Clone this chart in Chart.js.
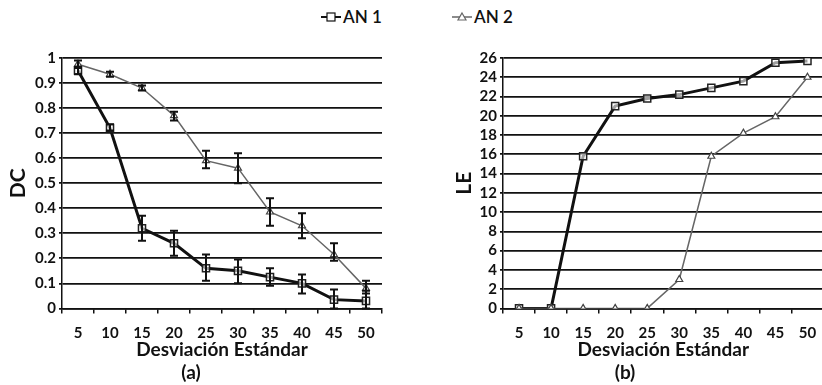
<!DOCTYPE html>
<html>
<head>
<meta charset="utf-8">
<script src="https://cdn.jsdelivr.net/npm/chart.js@4.4.1/dist/chart.umd.min.js"></script>
<style>
  body { margin: 0; background: #fff; width: 822px; height: 385px; overflow: hidden; position: relative; font-family: Lato, "Open Sans", sans-serif; }
  #boxA { position: absolute; left: 0; top: 30px; width: 420px; height: 355px; }
  #boxB { position: absolute; left: 420px; top: 30px; width: 410px; height: 355px; }
  .legend { position: absolute; top: 6px; font-size: 17px; font-weight: 600; color: #111; display: flex; align-items: center; }
  .legend canvas { margin-right: 2px; }
</style>
</head>
<body>
<div class="legend" style="left:321px"><canvas id="lg1" width="20" height="12"></canvas>AN 1</div>
<div class="legend" style="left:452px"><canvas id="lg2" width="20" height="12"></canvas>AN 2</div>
<div id="boxA"><canvas id="chartA"></canvas></div>
<div id="boxB"><canvas id="chartB"></canvas></div>
<script>
const categories = ['5', '10', '15', '20', '25', '30', '35', '40', '45', '50'];

// (a) DC
const dcAN1 = [0.95, 0.72, 0.32, 0.26, 0.16, 0.15, 0.125, 0.10, 0.035, 0.03];
const dcAN1Low = [0.935, 0.71, 0.27, 0.21, 0.11, 0.10, 0.09, 0.06, 0.0, 0.0];
const dcAN1High = [0.965, 0.735, 0.37, 0.31, 0.215, 0.195, 0.16, 0.135, 0.075, 0.07];
const dcAN2 = [0.975, 0.935, 0.88, 0.77, 0.59, 0.56, 0.385, 0.33, 0.215, 0.08];
const dcAN2Low = [0.96, 0.925, 0.87, 0.75, 0.56, 0.50, 0.33, 0.28, 0.19, 0.06];
const dcAN2High = [0.99, 0.945, 0.89, 0.785, 0.63, 0.62, 0.44, 0.38, 0.26, 0.11];

// (b) LE
const leAN1 = [0, 0, 15.8, 21, 21.8, 22.2, 22.9, 23.6, 25.5, 25.7];
const leAN2 = [0, 0, 0, 0, 0, 3, 15.8, 18.2, 19.9, 24];

const tickFont = { family: 'Lato', size: 15, weight: 'bold' };
const titleFont = { family: 'Lato', size: 19, weight: 'bold' };

// draws vertical error bars from dataset.errLow / dataset.errHigh
const errorBars = {
  id: 'errorBars',
  afterDatasetsDraw(chart) {
    const ctx = chart.ctx;
    const y = chart.scales.y;
    chart.data.datasets.forEach((ds, i) => {
      if (!ds.errLow) return;
      const meta = chart.getDatasetMeta(i);
      ctx.save();
      ctx.strokeStyle = '#111';
      ctx.lineWidth = 2;
      meta.data.forEach((pt, j) => {
        const top = y.getPixelForValue(ds.errHigh[j]);
        const bot = y.getPixelForValue(ds.errLow[j]);
        ctx.beginPath();
        ctx.moveTo(pt.x, top); ctx.lineTo(pt.x, bot);
        ctx.moveTo(pt.x - 4, top); ctx.lineTo(pt.x + 4, top);
        ctx.moveTo(pt.x - 4, bot); ctx.lineTo(pt.x + 4, bot);
        ctx.stroke();
      });
      ctx.restore();
    });
  }
};

function an1(data) {
  return {
    label: 'AN 1', data: data,
    borderColor: '#111', borderWidth: 3,
    pointStyle: 'rect', pointRadius: 5,
    pointBackgroundColor: 'rgba(255,255,255,0.6)', pointBorderColor: '#222', pointBorderWidth: 1.5,
    tension: 0
  };
}
function an2(data) {
  return {
    label: 'AN 2', data: data,
    borderColor: '#666', borderWidth: 1.5,
    pointStyle: 'triangle', pointRadius: 4,
    pointBackgroundColor: '#fff', pointBorderColor: '#444', pointBorderWidth: 1.2,
    tension: 0
  };
}

function makeOptions(yMax, step, yTitle, caption, yWidth, padRight, yTitleGap) {
  return {
    responsive: true,
    maintainAspectRatio: false,
    animation: false,
    layout: { padding: { left: 0, right: padRight, top: 28, bottom: 0 } },
    plugins: {
      legend: { display: false },
      tooltip: { enabled: false },
      title: { display: true, position: 'bottom', text: caption, color: '#111',
        font: { family: 'Lato', size: 19 }, padding: { top: 0, bottom: 1 } }
    },
    scales: {
      x: {
        offset: true,
        grid: { display: true, offset: true, drawOnChartArea: false, drawTicks: true, tickLength: 5, color: '#111', lineWidth: 1.5 },
        border: { color: '#111', width: 1.5 },
        ticks: { color: '#111', font: tickFont, padding: 11, maxRotation: 0, autoSkip: false },
        title: { display: true, text: 'Desviación Estándar', color: '#111', font: titleFont, padding: { top: -15, bottom: 0 } }
      },
      y: {
        min: 0, max: yMax,
        afterFit(scale) { scale.width = yWidth; },
        grid: { color: '#111', lineWidth: 1.7, drawTicks: true, tickLength: 3 },
        border: { color: '#111', width: 1.5 },
        ticks: { stepSize: step, color: '#111', font: tickFont, padding: 3, autoSkip: false,
          callback: v => String(+v.toFixed(1)) },
        title: { display: true, text: yTitle, color: '#111', font: { family: 'Lato', size: 21, weight: 'bold' }, padding: { top: yTitleGap, bottom: 4 } }
      }
    }
  };
}

const dsA1 = an1(dcAN1); dsA1.errLow = dcAN1Low; dsA1.errHigh = dcAN1High;
const dsA2 = an2(dcAN2); dsA2.errLow = dcAN2Low; dsA2.errHigh = dcAN2High;

new Chart(document.getElementById('chartA'), {
  type: 'line',
  data: { labels: categories, datasets: [dsA2, dsA1] },
  options: makeOptions(1, 0.1, 'DC', '(a)', 62, 38, 6),
  plugins: [errorBars]
});

new Chart(document.getElementById('chartB'), {
  type: 'line',
  data: { labels: categories, datasets: [an2(leAN2), an1(leAN1)] },
  options: makeOptions(26, 2, 'LE', '(b)', 83, 0, 32)
});

// legend swatches
function swatch(id, color, width, style) {
  const c = document.getElementById(id).getContext('2d');
  c.strokeStyle = color; c.lineWidth = width;
  c.beginPath(); c.moveTo(0, 6); c.lineTo(20, 6); c.stroke();
  c.lineWidth = 1.2;
  if (style === 'rect') { c.fillStyle = '#fff'; c.fillRect(6, 2, 8, 8); c.strokeRect(6, 2, 8, 8); }
  else { c.fillStyle = '#fff'; c.beginPath(); c.moveTo(10, 2); c.lineTo(14, 9); c.lineTo(6, 9); c.closePath(); c.fill(); c.stroke(); }
}
swatch('lg1', '#111', 2, 'rect');
swatch('lg2', '#666', 1.5, 'tri');
</script>
</body>
</html>
